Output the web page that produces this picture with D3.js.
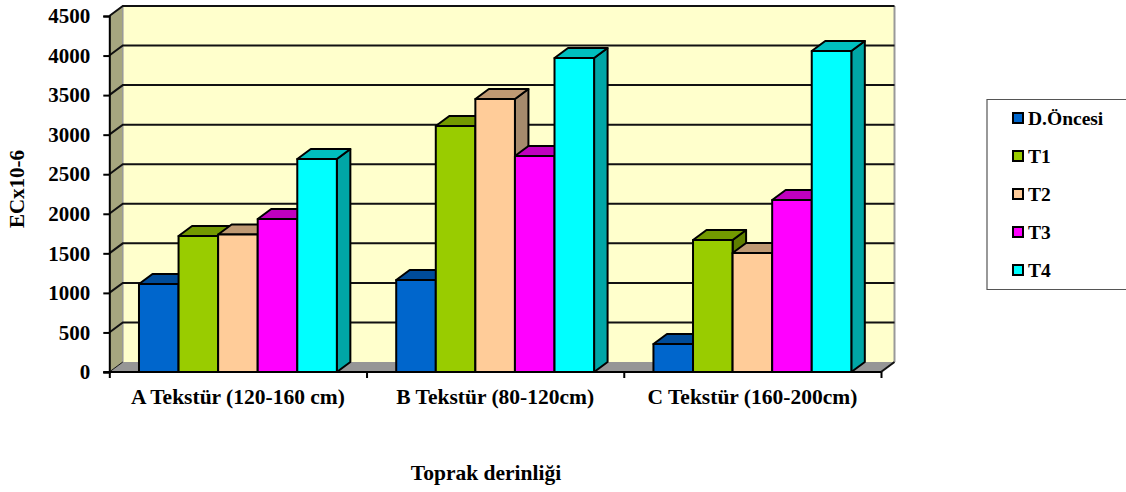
<!DOCTYPE html>
<html><head><meta charset="utf-8">
<script src="https://cdn.jsdelivr.net/npm/d3@7"></script>
<style>html,body{margin:0;padding:0;background:#fff;overflow:hidden}svg{display:block}text{font-family:"Liberation Serif",serif;font-weight:bold;fill:#000}</style>
</head><body><div id="c"></div>
<script>
const categories = ["A Tekstür (120-160 cm)", "B Tekstür (80-120cm)", "C Tekstür (160-200cm)"];
const seriesNames = ["D.Öncesi", "T1", "T2", "T3", "T4"];
const dOncesi = [1112, 1163, 354];
const t1 = [1719, 3110, 1669];
const t2 = [1738, 3451, 1504];
const t3 = [1934, 2730, 2174];
const t4 = [2692, 3969, 4058];
const seriesValues = [dOncesi, t1, t2, t3, t4];
const yTicks = [0, 500, 1000, 1500, 2000, 2500, 3000, 3500, 4000, 4500];
const frontColors = ["#0066CC", "#99CC00", "#FFCC99", "#FF00FF", "#00FFFF"];
const topColors = ["#004C99", "#739900", "#BF9973", "#BF00BF", "#00BFBF"];
const sideColors = ["#003F7F", "#5F7F00", "#A68A6C", "#A600A6", "#00A6A6"];

const W = 1126, H = 492, dx = 13.5, dy = 10;
const svg = d3.select("#c").append("svg").attr("width", W).attr("height", H);
const x = d3.scaleBand().domain(categories).range([109.3, 881]).paddingInner(0).paddingOuter(0);
const xs = d3.scaleBand().domain(seriesNames).range([0, x.bandwidth()]).paddingOuter(0.75).paddingInner(0);
const y = d3.scaleLinear().domain([0, 4500]).range([372, 16]);
const x0 = x.range()[0], x1 = x.range()[1];
const poly = pts => pts.map(p => p.join(",")).join(" ");

// walls
svg.append("polygon").attr("points", poly([[x0 + dx, y(4500) - dy], [x1 + dx, y(4500) - dy], [x1 + dx, y(0) - dy], [x0 + dx, y(0) - dy]]))
  .attr("fill", "#FFFFCC");
svg.append("line").attr("x1", x1 + dx).attr("x2", x1 + dx).attr("y1", y(4500) - dy).attr("y2", y(0) - dy).attr("stroke", "#999").attr("stroke-width", 2);
svg.append("polygon").attr("points", poly([[x0, y(4500)], [x0 + dx, y(4500) - dy], [x0 + dx, y(0) - dy], [x0, y(0)]]))
  .attr("fill", "#A6A67F");
svg.append("line").attr("x1", x0 + dx).attr("x2", x0 + dx).attr("y1", y(4500) - dy).attr("y2", y(0) - dy).attr("stroke", "#999").attr("stroke-width", 1.5);
svg.append("polygon").attr("points", poly([[x0, y(0)], [x0 + dx, y(0) - dy], [x1 + dx, y(0) - dy], [x1, y(0)]]))
  .attr("fill", "#969696");

// gridlines
yTicks.filter(t => t > 0).forEach(t => {
  svg.append("polyline").attr("points", poly([[x0, y(t)], [x0 + dx, y(t) - dy], [x1 + dx, y(t) - dy]]))
    .attr("fill", "none").attr("stroke", "#111").attr("stroke-width", 2);
});
svg.append("line").attr("x1", x1).attr("y1", y(0)).attr("x2", x1 + dx).attr("y2", y(0) - dy).attr("stroke", "#111").attr("stroke-width", 2);
svg.append("line").attr("x1", x0).attr("y1", y(0)).attr("x2", x0 + dx).attr("y2", y(0) - dy).attr("stroke", "#111").attr("stroke-width", 1);

// bars
categories.forEach((c, ci) => {
  seriesNames.forEach((s, si) => {
    const v = seriesValues[si][ci];
    const l = x(c) + xs(s), r = l + xs.bandwidth(), t = y(v), b = y(0);
    const g = svg.append("g").attr("stroke", "#000").attr("stroke-width", 2).attr("stroke-linejoin", "round");
    g.append("polygon").attr("points", poly([[r, t], [r + dx, t - dy], [r + dx, b - dy], [r, b]])).attr("fill", sideColors[si]);
    g.append("polygon").attr("points", poly([[l, t], [l + dx, t - dy], [r + dx, t - dy], [r, t]])).attr("fill", topColors[si]);
    g.append("rect").attr("x", l).attr("y", t).attr("width", r - l).attr("height", b - t).attr("fill", frontColors[si]);
  });
});

// axes
const yAxis = d3.axisLeft(y).tickValues(yTicks).tickSize(6).tickPadding(13).tickFormat(d3.format("d"));
const gy = svg.append("g").attr("transform", `translate(${x0},0)`).call(yAxis);
gy.selectAll("path,line").attr("stroke", "#000").attr("stroke-width", 2);
gy.selectAll("text").attr("font-size", 21).attr("font-family", '"Liberation Serif",serif').attr("font-weight", "bold");
const xAxis = d3.axisBottom(d3.scaleLinear().domain([0, 3]).range([x0, x1])).tickValues([0, 1, 2, 3]).tickSize(6).tickFormat("");
const gx = svg.append("g").attr("transform", `translate(0,${y(0)})`).call(xAxis);
gx.selectAll("path,line").attr("stroke", "#000").attr("stroke-width", 2);
gx.select("path").attr("d", `M${x0 - 6},0H${x1}`);

categories.forEach(c => {
  svg.append("text").attr("x", x(c) + x.bandwidth() / 2).attr("y", 404).attr("text-anchor", "middle").attr("font-size", 21.5).text(c);
});
svg.append("text").attr("x", 486).attr("y", 480).attr("text-anchor", "middle").attr("font-size", 21.5).text("Toprak derinliği");
svg.append("text").attr("transform", "translate(24,189) rotate(-90)").attr("text-anchor", "middle").attr("font-size", 21).text("ECx10-6");

// legend
svg.append("path").attr("d", "M1126,99.5H987V289.5H1126").attr("fill", "none").attr("stroke", "#555").attr("stroke-width", 1.2);
const legendY = d3.scalePoint().domain(seriesNames).range([118, 270]);
seriesNames.forEach((s, i) => {
  svg.append("rect").attr("x", 1013).attr("y", legendY(s) - 5).attr("width", 10).attr("height", 10)
    .attr("fill", frontColors[i]).attr("stroke", "#000").attr("stroke-width", 2);
  svg.append("text").attr("x", 1028).attr("y", legendY(s) + 7).attr("font-size", 19.5).text(s);
});
</script></body></html>
